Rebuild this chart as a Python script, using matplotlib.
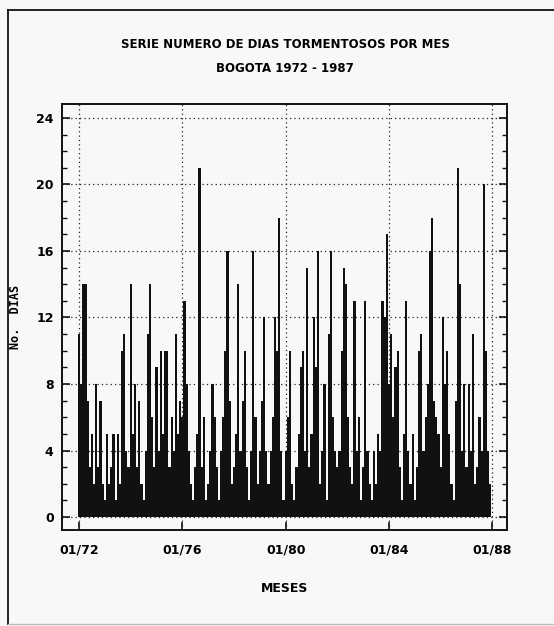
import matplotlib
matplotlib.use("Agg")
import matplotlib.pyplot as plt
from matplotlib.lines import Line2D
from matplotlib.ticker import MultipleLocator

# Monthly number of thunderstorm days, Bogota, Jan 1972 .. Dec 1987
y1972 = [11, 8, 14, 14, 7, 3, 5, 2, 8, 3, 7, 2]
y1973 = [1, 5, 2, 3, 5, 1, 5, 2, 10, 11, 4, 3]
y1974 = [14, 5, 8, 3, 7, 2, 1, 4, 11, 14, 6, 3]
y1975 = [9, 4, 10, 5, 10, 10, 3, 6, 4, 11, 5, 7]
y1976 = [6, 13, 8, 4, 2, 1, 3, 5, 21, 3, 6, 1]
y1977 = [2, 4, 8, 6, 3, 1, 4, 6, 10, 16, 7, 2]
y1978 = [3, 5, 14, 4, 7, 10, 3, 1, 4, 16, 6, 2]
y1979 = [4, 7, 12, 4, 2, 4, 6, 12, 10, 18, 4, 1]
y1980 = [4, 6, 10, 2, 1, 3, 5, 9, 10, 4, 15, 3]
y1981 = [5, 12, 9, 16, 2, 4, 8, 1, 11, 16, 6, 4]
y1982 = [3, 4, 10, 15, 14, 6, 3, 2, 13, 4, 6, 1]
y1983 = [3, 13, 4, 2, 1, 4, 2, 5, 4, 13, 12, 17]
y1984 = [8, 11, 6, 9, 10, 3, 1, 5, 13, 4, 2, 5]
y1985 = [1, 3, 10, 11, 4, 6, 8, 16, 18, 7, 6, 5]
y1986 = [3, 12, 8, 10, 5, 2, 1, 7, 21, 14, 4, 8]
y1987 = [3, 8, 4, 11, 2, 3, 6, 4, 20, 10, 4, 2]

years = [y1972, y1973, y1974, y1975, y1976, y1977, y1978, y1979,
         y1980, y1981, y1982, y1983, y1984, y1985, y1986, y1987]
values = [v for yr in years for v in yr]
months = list(range(len(values)))

tick_pos = [0, 48, 96, 144, 192]
tick_labels = ["01/72", "01/76", "01/80", "01/84", "01/88"]
ytick_pos = [0, 4, 8, 12, 16, 20, 24]
ytick_labels = ["0", "4", "8", "12", "16", "20", "24"]

title1 = "SERIE NUMERO DE DIAS TORMENTOSOS POR MES"
title2 = "BOGOTA 1972 - 1987"

bg = "#f8f8f8"
fam = ["Liberation Sans Narrow", "DejaVu Sans"]

fig = plt.figure(figsize=(5.54, 6.26), dpi=100, facecolor=bg)
ax = fig.add_axes([62/554, 1-530/626, (507-62)/554, (530-104)/626], facecolor=bg)

ax.bar(months, values, width=1.0, color="#111111", edgecolor="none", zorder=2)

ax.set_xlim(-7.9, 198.8)
ax.set_ylim(-0.78, 24.84)

ax.set_xticks(tick_pos)
ax.set_xticklabels(tick_labels, family=fam, fontsize=9, fontweight="bold")
ax.set_yticks(ytick_pos)
ax.set_yticklabels(ytick_labels, family=fam, fontsize=9, fontweight="bold")
ax.yaxis.set_minor_locator(MultipleLocator(1))
ax.tick_params(axis="both", which="both", direction="in", color="#111111")
ax.tick_params(axis="y", which="major", length=6, width=1.2, pad=6, left=True, right=True)
ax.tick_params(axis="y", which="minor", length=3.5, width=1.0, left=True, right=True)
ax.tick_params(axis="x", which="major", length=6, width=1.2, pad=10, top=False)

for s in ax.spines.values():
    s.set_linewidth(1.4)
    s.set_color("#111111")

ax.grid(True, which="major", linestyle=(0, (1, 2.5)), color="#222222", linewidth=0.9, zorder=1)
ax.set_axisbelow(True)

ax.set_xlabel("MESES", family=fam, fontsize=9, fontweight="bold", labelpad=18)
ax.set_ylabel("No.  DIAS", family=["DejaVu Sans Mono"], fontsize=8.5, fontweight="bold", labelpad=10)

fig.text(285/554, 1-45/626, title1, ha="center", va="center", family=fam, fontsize=8.5, fontweight="bold")
fig.text(285/554, 1-68/626, title2, ha="center", va="center", family=fam, fontsize=8.5, fontweight="bold")

# outer frame
fig.add_artist(Line2D([8/554, 8/554], [1-10/626, 2/626], transform=fig.transFigure, color="#111111", lw=1.3))
fig.add_artist(Line2D([8/554, 1.0], [1-10/626, 1-10/626], transform=fig.transFigure, color="#111111", lw=1.3))
fig.add_artist(Line2D([8/554, 1.0], [2/626, 2/626], transform=fig.transFigure, color="#bbbbbb", lw=1.0))

fig.savefig("out.png", dpi=100, facecolor=bg)
